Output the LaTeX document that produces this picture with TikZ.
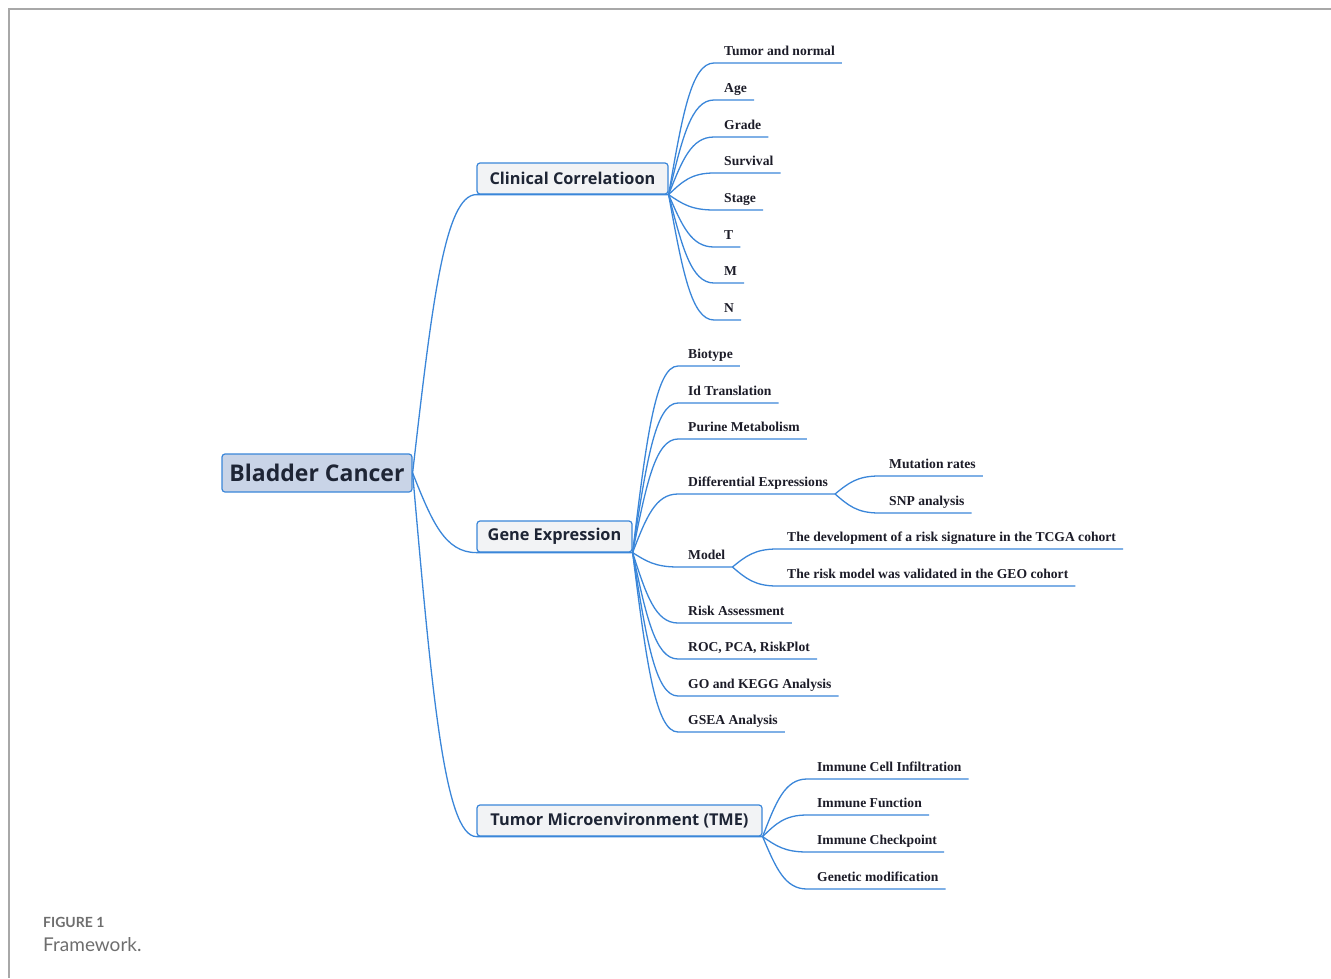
\documentclass[tikz,border=0pt]{standalone}
\usepackage{fontspec}
\setmainfont{Liberation Serif}
\newfontfamily\boxfont{Open Sans}
\newfontfamily\capfont{Lato}
\usetikzlibrary{calc}
\definecolor{mmblue}{HTML}{3A86D9}
\definecolor{rootfill}{HTML}{C9D4E7}
\definecolor{boxfill}{HTML}{F2F3F5}
\definecolor{navy}{HTML}{1E2535}
\definecolor{leaftext}{HTML}{1C1C28}
\definecolor{framegray}{HTML}{A8A8A8}
\definecolor{capgray}{HTML}{6E6E6E}
\tikzset{
  conn/.style={draw=mmblue, line width=1.3pt},
  rootbox/.style={draw=mmblue, fill=rootfill, rounded corners=3pt, line width=1.2pt,
    minimum width=190pt, minimum height=38pt, inner sep=0pt, text=navy,
    font=\boxfont\bfseries\fontsize{23}{27}\selectfont},
  mainbox/.style={draw=mmblue, fill=boxfill, rounded corners=3pt, line width=1.2pt,
    minimum height=31pt, inner sep=0pt, text=navy,
    font=\boxfont\bfseries\fontsize{16.3}{20}\selectfont},
  leaf/.style={anchor=south west, inner xsep=0pt, inner ysep=7pt, text depth=0pt,
    text=leaftext, font=\bfseries\fontsize{13.6}{16}\selectfont,
    execute at begin node={\hspace{10pt}}, execute at end node={\hspace{7pt}}},
  caption/.style={anchor=base west, inner sep=0pt, text=capgray}
}
\newcommand\mmlink[2]{%
  \draw[conn] let \p1=(#1), \p2=(#2.south west) in
    (\p1) .. controls ({\x1+0.3*(\x2-\x1)},{\y1+0.6*(\y2-\y1)}) and ({0.5*(\x1+\x2)},\y2) .. (\p2) -- (#2.south east);}
\begin{document}
\begin{tikzpicture}[x=1pt,y=-1pt]
\useasboundingbox (0,0) rectangle (1331,978);
\draw[framegray, line width=1.5pt] (1331,9) -- (9,9) -- (9,978);

% main nodes
\node[rootbox] (root) at (317,473) {Bladder Cancer};
\node[mainbox, minimum width=191pt] (clin) at (572.5,178.5) {Clinical Correlatioon};
\node[mainbox, minimum width=155pt] (gene) at (554.5,536.5) {Gene Expression};
\node[mainbox, minimum width=285pt] (tme) at (619.5,820.5) {Tumor Microenvironment (TME)};

% clinical leaves
\node[leaf] (c1) at (714,63) {Tumor and normal};
\node[leaf] (c2) at (714,100) {Age};
\node[leaf] (c3) at (714,137) {Grade};
\node[leaf] (c4) at (714,173) {Survival};
\node[leaf] (c5) at (714,210) {Stage};
\node[leaf] (c6) at (714,247) {T};
\node[leaf] (c7) at (714,283) {M};
\node[leaf] (c8) at (714,320) {N};

% gene leaves
\node[leaf] (g1) at (678,366) {Biotype};
\node[leaf] (g2) at (678,403) {Id Translation};
\node[leaf] (g3) at (678,439) {Purine Metabolism};
\node[leaf] (g4) at (678,494) {Differential Expressions};
\node[leaf] (g5) at (678,567) {Model};
\node[leaf] (g6) at (678,623) {Risk Assessment};
\node[leaf] (g7) at (678,659) {ROC, PCA, RiskPlot};
\node[leaf] (g8) at (678,696) {GO and KEGG Analysis};
\node[leaf] (g9) at (678,732) {GSEA Analysis};

\node[leaf] (d1) at (879,476) {Mutation rates};
\node[leaf] (d2) at (879,513) {SNP analysis};
\node[leaf] (m1) at (777,549) {The development of a risk signature in the TCGA cohort};
\node[leaf] (m2) at (777,586) {The risk model was validated in the GEO cohort};

% TME leaves
\node[leaf] (t1) at (807,779) {Immune Cell Infiltration};
\node[leaf] (t2) at (807,815) {Immune Function};
\node[leaf] (t3) at (807,852) {Immune Checkpoint};
\node[leaf] (t4) at (807,889) {Genetic modification};

% connectors
\foreach \m in {clin,gene,tme} {\mmlink{root.east}{\m}}
\foreach \c in {c1,c2,c3,c4,c5,c6,c7,c8} {\mmlink{clin.south east}{\c}}
\foreach \g in {g1,g2,g3,g4,g5,g6,g7,g8,g9} {\mmlink{gene.south east}{\g}}
\foreach \t in {t1,t2,t3,t4} {\mmlink{tme.south east}{\t}}
\foreach \d in {d1,d2} {\mmlink{g4.south east}{\d}}
\foreach \d in {m1,m2} {\mmlink{g5.south east}{\d}}

% caption
\node[caption, font=\capfont\bfseries\fontsize{14}{17}\selectfont] (cap1) at (43,927) {FIGURE 1};
\node[caption, font=\capfont\fontsize{19}{23}\selectfont] (cap2) at (43,951) {Framework.};
\end{tikzpicture}
\end{document}
